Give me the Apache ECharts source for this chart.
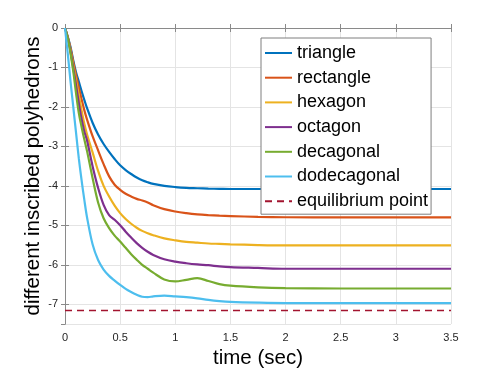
<!DOCTYPE html>
<html>
<head>
<meta charset="utf-8">
<script src="https://cdn.jsdelivr.net/npm/echarts@6/dist/echarts.min.js"></script>
<style>
html, body { margin: 0; padding: 0; background: #fff; }
#chart { width: 498px; height: 374px; }
</style>
</head>
<body>
<div id="chart"></div>
<script>
// time axis (sec)
const timeSec = [0, 0.025, 0.05, 0.075, 0.1, 0.125, 0.15, 0.175, 0.2, 0.25, 0.3, 0.35, 0.4, 0.45, 0.5, 0.55, 0.6, 0.65, 0.7, 0.75, 0.8, 0.9, 1.0, 1.1, 1.2, 1.3, 1.4, 1.5, 1.75, 2.0, 2.5, 3.0, 3.5];

const triangle = [0, -0.22, -0.48, -0.82, -1.12, -1.36, -1.6, -1.82, -2.03, -2.4, -2.7, -2.94, -3.14, -3.32, -3.48, -3.6, -3.7, -3.79, -3.86, -3.91, -3.95, -4.0, -4.03, -4.05, -4.06, -4.07, -4.075, -4.08, -4.08, -4.08, -4.08, -4.08, -4.08];
const rectangle = [0, -0.23, -0.52, -0.87, -1.2, -1.5, -1.8, -2.08, -2.32, -2.74, -3.1, -3.45, -3.76, -3.97, -4.1, -4.2, -4.27, -4.33, -4.37, -4.42, -4.49, -4.59, -4.65, -4.69, -4.72, -4.74, -4.755, -4.765, -4.785, -4.795, -4.8, -4.8, -4.8];
const hexagon = [0, -0.24, -0.56, -0.95, -1.32, -1.7, -2.08, -2.42, -2.7, -3.15, -3.62, -4.0, -4.27, -4.5, -4.69, -4.84, -4.96, -5.06, -5.14, -5.2, -5.25, -5.33, -5.38, -5.42, -5.44, -5.46, -5.47, -5.48, -5.5, -5.51, -5.51, -5.51, -5.51];
const octagon = [0, -0.25, -0.6, -1.02, -1.45, -1.9, -2.3, -2.62, -2.85, -3.5, -4.05, -4.48, -4.74, -4.86, -5.0, -5.16, -5.31, -5.45, -5.57, -5.67, -5.75, -5.86, -5.92, -5.96, -5.99, -6.01, -6.04, -6.06, -6.08, -6.1, -6.1, -6.1, -6.1];
const decagonal = [0, -0.26, -0.64, -1.1, -1.65, -2.15, -2.5, -2.82, -3.12, -3.8, -4.42, -4.82, -5.07, -5.26, -5.41, -5.57, -5.73, -5.87, -6.0, -6.1, -6.2, -6.37, -6.42, -6.38, -6.34, -6.41, -6.49, -6.53, -6.57, -6.59, -6.6, -6.6, -6.6];
const dodecagonal = [0, -0.65, -1.35, -2.0, -2.65, -3.3, -3.85, -4.35, -4.8, -5.48, -5.88, -6.12, -6.28, -6.4, -6.51, -6.61, -6.69, -6.76, -6.81, -6.82, -6.8, -6.78, -6.8, -6.82, -6.85, -6.89, -6.92, -6.94, -6.96, -6.97, -6.97, -6.97, -6.97];

// equilibrium point (horizontal reference)
const equilibriumTime = [0, 3.5];
const equilibrium = [-7.16, -7.16];

const seriesNames = ['triangle', 'rectangle', 'hexagon', 'octagon', 'decagonal', 'dodecagonal'];
const seriesValues = [triangle, rectangle, hexagon, octagon, decagonal, dodecagonal];
const colors = ['#0072BD', '#D95319', '#EDB120', '#7E2F8E', '#77AC30', '#4DBEEE'];

const font = 'Liberation Sans, Arial, sans-serif';
const axisGray = '#8a8a8a';

const chart = echarts.init(document.getElementById('chart'));

const series = seriesNames.map((name, k) => ({
  name: name,
  type: 'line',
  xAxisIndex: 0,
  yAxisIndex: 0,
  symbol: 'none',
  smooth: 0.35,
  lineStyle: { color: colors[k], width: 2.2 },
  itemStyle: { color: colors[k] },
  data: timeSec.map((t, i) => [t, seriesValues[k][i]])
}));

series.push({
  name: 'equilibrium point',
  type: 'line',
  symbol: 'none',
  lineStyle: { color: '#A2142F', width: 1.5, type: [7, 5] },
  itemStyle: { color: '#A2142F' },
  data: equilibriumTime.map((t, i) => [t, equilibrium[i]])
});

const tickStyle = { show: true, inside: true, length: 4, lineStyle: { color: axisGray } };

const option = {
  animation: false,
  backgroundColor: '#fff',
  grid: { left: 65, right: 47, top: 28, bottom: 50 },
  legend: {
    orient: 'vertical',
    left: 261,
    top: 38,
    data: seriesNames.concat(['equilibrium point']),
    itemWidth: 27,
    itemHeight: 14,
    itemGap: 6.7,
    padding: [6, 3, 4, 3],
    itemStyle: { opacity: 0 },
    backgroundColor: '#fff',
    borderColor: '#7f7f7f',
    borderWidth: 1,
    borderRadius: 0,
    textStyle: { fontFamily: font, fontSize: 18, lineHeight: 18, color: '#000' }
  },
  xAxis: [
    {
      type: 'value',
      min: 0, max: 3.5, interval: 0.5,
      name: 'time (sec)',
      nameLocation: 'middle',
      nameGap: 24,
      nameMoveOverlap: false,
      nameTextStyle: { fontFamily: font, fontSize: 20.5, color: '#000' },
      axisLine: { lineStyle: { color: axisGray, width: 1 } },
      axisTick: tickStyle,
      axisLabel: { fontFamily: font, fontSize: 11, color: '#262626', margin: 8 },
      splitLine: { show: true, lineStyle: { color: '#e4e4e4', width: 1 } }
    },
    {
      type: 'value', position: 'top',
      min: 0, max: 3.5, interval: 0.5,
      axisLine: { show: true, lineStyle: { color: axisGray, width: 1 } },
      axisTick: tickStyle,
      axisLabel: { show: false },
      splitLine: { show: false }
    }
  ],
  yAxis: [
    {
      type: 'value',
      min: -7.5, max: 0,
      splitNumber: 8, minInterval: 1, maxInterval: 1,
      name: 'different inscribed polyhedrons',
      nameLocation: 'middle',
      nameGap: 21,
      nameMoveOverlap: false,
      nameTextStyle: { fontFamily: font, fontSize: 20.5, color: '#000' },
      axisLine: { show: true, lineStyle: { color: axisGray, width: 1 } },
      axisTick: tickStyle,
      axisLabel: { fontFamily: font, fontSize: 11, color: '#262626', margin: 7, showMinLabel: false },
      splitLine: { show: true, lineStyle: { color: '#e4e4e4', width: 1 } }
    },
    {
      type: 'value', position: 'right',
      min: -7.5, max: 0,
      splitNumber: 8, minInterval: 1, maxInterval: 1,
      axisLine: { show: true, lineStyle: { color: axisGray, width: 1 } },
      axisTick: tickStyle,
      axisLabel: { show: false },
      splitLine: { show: false }
    }
  ],
  series: series
};

chart.setOption(option);
</script>
</body>
</html>
